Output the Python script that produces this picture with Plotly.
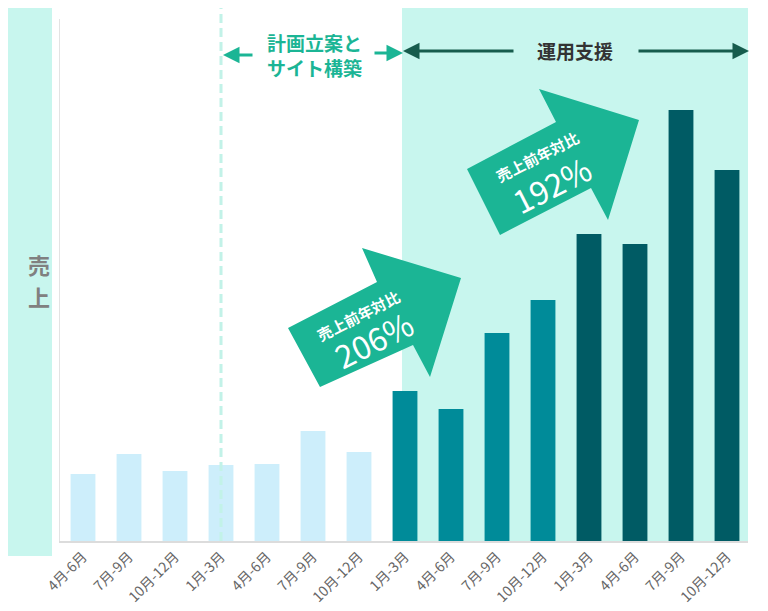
import plotly.graph_objects as go

# quarterly sales (relative units)
quarters = ['4月-6月', '7月-9月', '10月-12月', '1月-3月', '4月-6月', '7月-9月', '10月-12月',
            '1月-3月', '4月-6月', '7月-9月', '10月-12月', '1月-3月', '4月-6月', '7月-9月', '10月-12月']
sales = [67, 87, 70, 76, 77, 110, 89, 150, 132, 208, 241, 307, 297, 431, 371]
phase = ['before'] * 7 + ['year1'] * 4 + ['year2'] * 4
growth_labels = ['206%', '192%']

phase_colors = {'before': '#cdeefb', 'year1': '#008b99', 'year2': '#005b64'}
TEAL = '#1bb595'
MINT = '#c8f6ee'
DARK = '#175c4d'
FONT = 'Noto Sans CJK JP'

x = list(range(len(sales)))

# the page has an 8px body margin, so the figure is shifted and
# everything below is given in page pixels (plot area x 60..748, y 19..541)
PAGE_OFF = 8


def dx(px):
    return (px - 83) / 46


def dy(py):
    return 541 - py


def px_paper(px):
    return (px - 60) / 688


def py_paper(py):
    return (541 - py) / 522


fig = go.Figure()
fig.add_trace(go.Bar(
    x=x, y=sales,
    marker=dict(color=[phase_colors[p] for p in phase], line=dict(width=0)),
    hoverinfo='skip',
))

shapes = [
    # left band with label
    dict(type='rect', xref='paper', yref='paper', x0=px_paper(PAGE_OFF), x1=px_paper(52),
         y0=py_paper(556), y1=py_paper(PAGE_OFF), fillcolor=MINT, line=dict(width=0), layer='below'),
    # support period background
    dict(type='rect', xref='x', yref='paper', x0=dx(402), x1=dx(748),
         y0=0, y1=py_paper(PAGE_OFF), fillcolor=MINT, line=dict(width=0), layer='below'),
    # dashed separator
    dict(type='line', xref='x', yref='paper', x0=3, x1=3, y0=0, y1=py_paper(PAGE_OFF),
         line=dict(color='#c2f2e8', width=3, dash='9px,5px'), layer='above'),
]

arrows = [
    [(288, 328), (377, 282), (362, 248), (461, 278), (430, 377), (413, 345), (320, 387)],
    [(467, 169), (556, 122), (539, 89), (639, 120), (608, 220), (591, 188), (500, 235)],
]
for pts in arrows:
    path = 'M ' + ' L '.join(f'{dx(a)},{dy(b)}' for a, b in pts) + ' Z'
    shapes.append(dict(type='path', xref='x', yref='y', path=path,
                       fillcolor=TEAL, line=dict(width=0), layer='above'))

annotations = [
    dict(text='<b>売</b>', xref='paper', yref='paper', x=px_paper(26), y=py_paper(264),
         showarrow=False, font=dict(family=FONT, size=22, color='#808080')),
    dict(text='<b>上</b>', xref='paper', yref='paper', x=px_paper(26), y=py_paper(296),
         showarrow=False, font=dict(family=FONT, size=22, color='#808080')),
    dict(text='<b>計画立案と<br>サイト構築</b>', xref='x', yref='y', x=dx(314), y=dy(55),
         showarrow=False, font=dict(family=FONT, size=19, color=TEAL)),
    dict(text='<b>運用支援</b>', xref='x', yref='y', x=dx(575), y=dy(50),
         showarrow=False, font=dict(family=FONT, size=19, color='#333333')),
]

# period arrows
for head, tail, yy, col in [(223, 254, 55, TEAL), (403, 373, 53, TEAL),
                            (403, 515, 51, DARK), (749, 637, 51, DARK)]:
    annotations.append(dict(text='', xref='x', yref='y', x=dx(head), y=dy(yy),
                            axref='x', ayref='y', ax=dx(tail), ay=dy(yy),
                            showarrow=True, arrowhead=2, arrowsize=1.1,
                            arrowwidth=3, arrowcolor=col))

# growth labels on arrows
for (sx, sy), (bx, by), lab in [((358, 315), (373, 339), growth_labels[0]),
                                ((537, 156), (551, 184), growth_labels[1])]:
    annotations.append(dict(text='<b>売上前年対比</b>', xref='x', yref='y', x=dx(sx), y=dy(sy),
                            showarrow=False, textangle=-27,
                            font=dict(family=FONT, size=15, color='white')))
    annotations.append(dict(text=lab, xref='x', yref='y', x=dx(bx), y=dy(by),
                            showarrow=False, textangle=-27,
                            font=dict(family=FONT, size=32, color='white')))

fig.update_layout(
    width=768 - 2 * PAGE_OFF, height=611 - PAGE_OFF,
    margin=dict(l=60 - PAGE_OFF, r=20 - PAGE_OFF, t=19 - PAGE_OFF, b=70),
    paper_bgcolor='white', plot_bgcolor='white',
    showlegend=False, bargap=0.46,
    shapes=shapes, annotations=annotations,
    xaxis=dict(range=[-0.5, dx(748)], tickvals=x, ticktext=quarters, tickangle=-45,
               showline=True, linecolor='#dcdcdc', linewidth=2, ticks='',
               showgrid=False, zeroline=False, fixedrange=True, automargin=False,
               tickfont=dict(family=FONT, size=14, color='#666666')),
    yaxis=dict(range=[0, 522], showticklabels=False, showgrid=False, zeroline=False,
               showline=True, linecolor='#e3e3e3', linewidth=1, fixedrange=True,
               automargin=False),
)

fig.write_html('out.html')
